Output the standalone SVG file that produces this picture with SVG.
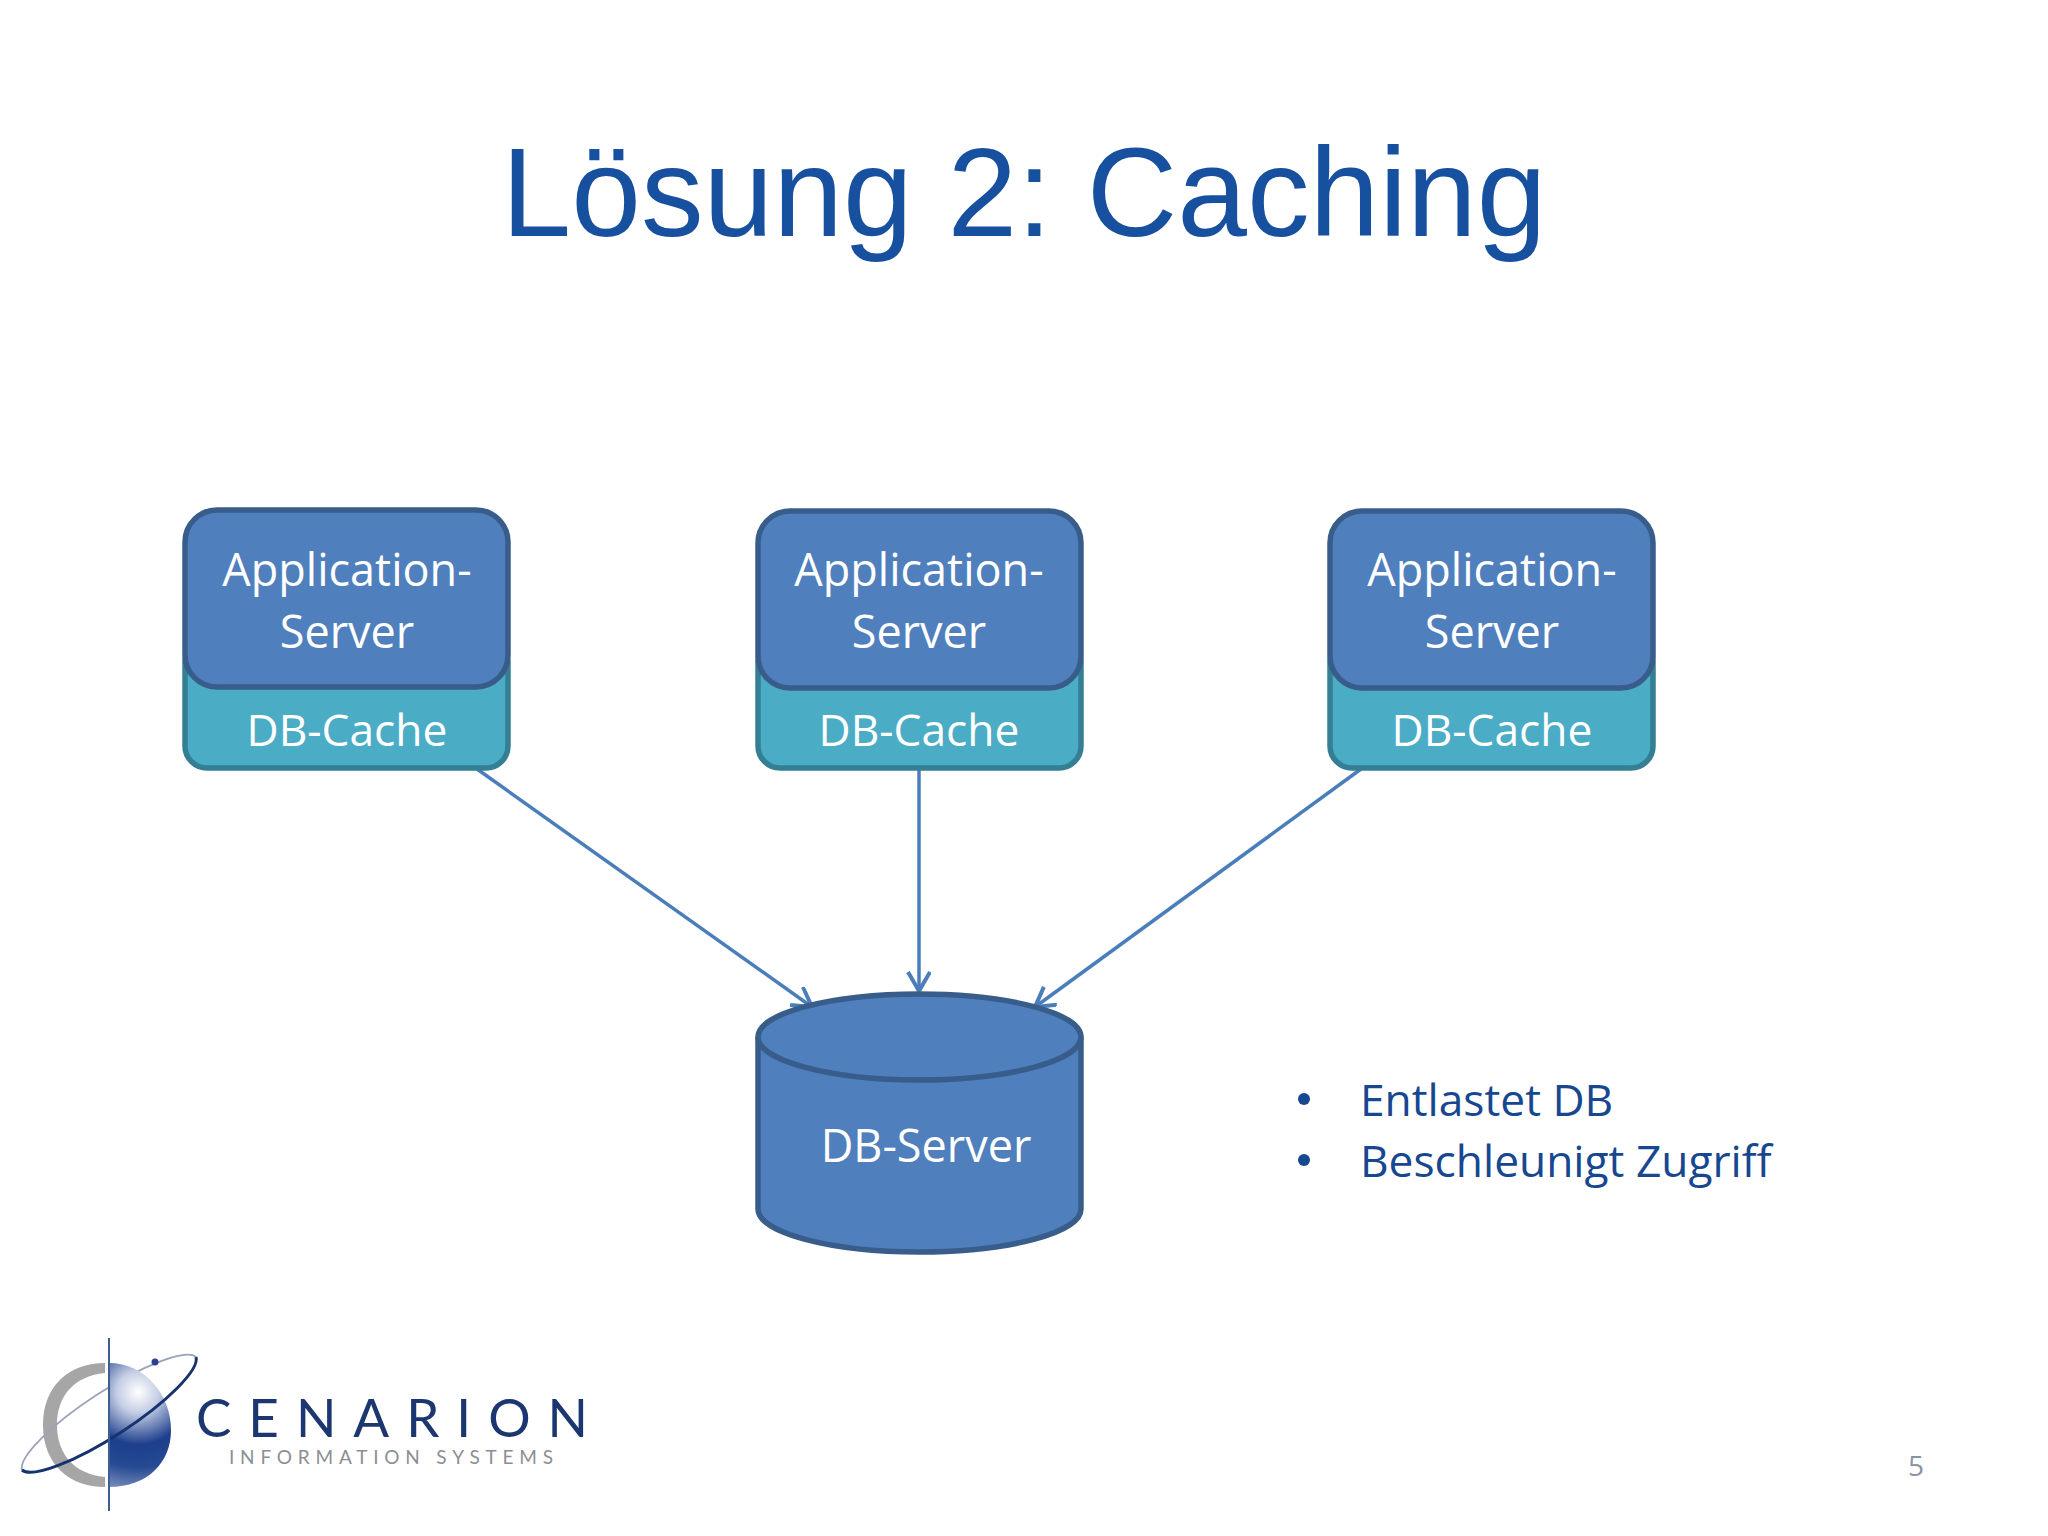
<svg xmlns="http://www.w3.org/2000/svg" width="2048" height="1536" viewBox="0 0 2048 1536">
<defs>
<style>
.t{font-family:"Open Sans","Noto Sans",sans-serif;fill:#fff;font-size:45px;text-anchor:middle}
.k{font-size:44.3px}
.app{fill:#4f7fbd;stroke:#385d8a;stroke-width:5.5}
.cache{fill:#4bacc6;stroke:#357f94;stroke-width:5.5}
.c{fill:none;stroke:#4a7ebb;stroke-width:3.5;marker-end:url(#a)}
.b{font-family:"Open Sans","Noto Sans",sans-serif;fill:#16478f;font-size:44.3px}
.l{font-family:"Liberation Sans",sans-serif}
.logo{font-family:Lato,"Liberation Sans",sans-serif;font-weight:400}
</style>
<marker id="a" markerUnits="userSpaceOnUse" markerWidth="30" markerHeight="30" refX="20" refY="12" orient="auto"><path d="M1 1L20 12L1 23" fill="none" stroke="#4a7ebb" stroke-width="4"/></marker>
<radialGradient id="g" gradientUnits="userSpaceOnUse" cx="138" cy="1392" r="105"><stop offset="0" stop-color="#fff"/><stop offset="0.2" stop-color="#c4cde4"/><stop offset="0.5" stop-color="#1d3f8c"/><stop offset="0.72" stop-color="#264a93"/><stop offset="1" stop-color="#8e9fc8"/></radialGradient>
</defs>
<rect width="2048" height="1536" fill="#fff"/>
<text class="l" x="1024" y="236" font-size="125.300" fill="#17509e" text-anchor="middle">Lösung 2: Caching</text>
<g id="conn">
<line class="c" x1="477" y1="769" x2="812" y2="1007"/>
<line class="c" x1="919" y1="769" x2="919" y2="991"/>
<line class="c" x1="1361" y1="769" x2="1035" y2="1007"/>
</g>
<g id="cache1"><rect class="cache" x="185" y="640" width="323" height="128" rx="22"/><text class="t k" x="347" y="746">DB-Cache</text></g>
<g id="app1"><rect class="app" x="185" y="510" width="323" height="177" rx="32"/><text class="t" x="347" y="586">Application-</text><text class="t" x="347" y="648">Server</text></g>
<g id="cache2"><rect class="cache" x="758" y="640" width="323" height="128" rx="22"/><text class="t k" x="919" y="746">DB-Cache</text></g>
<g id="app2"><rect class="app" x="758" y="511" width="323" height="177" rx="32"/><text class="t" x="919" y="586">Application-</text><text class="t" x="919" y="648">Server</text></g>
<g id="cache3"><rect class="cache" x="1330" y="640" width="323" height="128" rx="22"/><text class="t k" x="1492" y="746">DB-Cache</text></g>
<g id="app3"><rect class="app" x="1330" y="511" width="323" height="177" rx="32"/><text class="t" x="1492" y="586">Application-</text><text class="t" x="1492" y="648">Server</text></g>
<g id="db"><path class="app" d="M758 1037A161.500 43 0 0 1 1081 1037V1209A161.500 43 0 0 1 758 1209Z"/><path d="M758 1037A161.500 43 0 0 0 1081 1037" fill="none" stroke="#385d8a" stroke-width="5.500"/><text class="t" x="926" y="1162">DB-Server</text></g>
<g id="bullets">
<circle cx="1304" cy="1099" r="6" fill="#16478f"/><circle cx="1304" cy="1160" r="6" fill="#16478f"/>
<text class="b" x="1360" y="1116">Entlastet DB</text>
<text class="b" x="1360" y="1177">Beschleunigt Zugriff</text>
</g>
<g id="logo">
<path d="M105 1363C70 1363 43 1385 43 1425C43 1465 70 1487 105 1487L105 1477C75 1474 57 1455 57 1425C57 1395 75 1376 105 1373Z" fill="#a6a6a6"/>
<path d="M22 1470A104 24 -33 0 1 196 1357" fill="none" stroke="#9aa3b8" stroke-width="1.800"/>
<path d="M109 1363C145 1363 171 1395 171 1430C171 1462 148 1487 109 1487Z" fill="url(#g)"/>
<path d="M22 1470A104 24 -33 0 0 196 1357" fill="none" stroke="#17336f" stroke-width="3"/>
<circle cx="155" cy="1362" r="3.500" fill="#2a3f8f"/>
<line x1="109" y1="1338" x2="109" y2="1511" stroke="#3d5f90" stroke-width="2"/>
<text class="logo" x="196" y="1437" font-size="53" fill="#1c3670" textLength="392">CENARION</text>
<text class="logo" x="229" y="1464" font-size="19" fill="#8a8f94" textLength="324">INFORMATION SYSTEMS</text>
</g>
<text x="1916" y="1476" font-size="28" fill="#8a94a8" text-anchor="middle" style="font-family:'Open Sans',sans-serif">5</text>
</svg>
